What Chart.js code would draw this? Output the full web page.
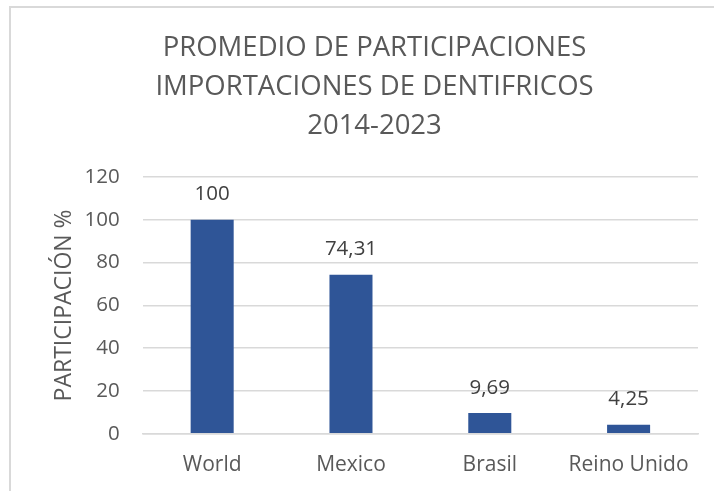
<!DOCTYPE html>
<html>
<head>
<meta charset="utf-8">
<script src="https://cdn.jsdelivr.net/npm/chart.js@4.4.1/dist/chart.umd.min.js"></script>
<style>
  html, body { margin: 0; padding: 0; background: #fff; overflow: hidden; }
  #wrap { position: relative; width: 714px; height: 491px; }
  #frame { position: absolute; left: 9px; top: 6px; width: 740px; height: 520px;
           border: 2px solid #D9D9D9; pointer-events: none; box-sizing: border-box; }
</style>
</head>
<body>
<div id="wrap">
  <canvas id="chart" width="714" height="491"></canvas>
  <div id="frame"></div>
</div>
<script>
const titleLines = ['PROMEDIO DE PARTICIPACIONES', 'IMPORTACIONES DE DENTIFRICOS', '2014-2023'];
const countries = ['World', 'Mexico', 'Brasil', 'Reino Unido'];
const shares = [100, 74.31, 9.69, 4.25];
const yTitle = 'PARTICIPACIÓN %';

const FONT = "'Open Sans', 'Noto Sans', sans-serif";
const GREY = '#595959';

// value labels above each bar, Spanish decimal comma
const barLabels = {
    id: 'barLabels',
    afterDatasetsDraw(chart){
        const ctx = chart.ctx;
        const meta = chart.getDatasetMeta(0);
        ctx.save();
        ctx.font = '20.5px ' + FONT;
        ctx.fillStyle = '#404040';
        ctx.textAlign = 'center';
        ctx.textBaseline = 'bottom';
        meta.data.forEach(function(bar, i){
            const txt = String(shares[i]).replace('.', ',');
            ctx.fillText(txt, bar.x, bar.y - 15);
        });
        ctx.restore();
    }
};

new Chart(document.getElementById('chart'), {
    type: 'bar',
    data: {
        labels: countries,
        datasets: [{
            data: shares,
            backgroundColor: '#2F5597',
            barPercentage: 0.31,
            categoryPercentage: 1.0
        }]
    },
    options: {
        responsive: false,
        animation: false,
        layout: { padding: { left: 51, right: 16, top: 8, bottom: 2 } },
        plugins: {
            legend: { display: false },
            tooltip: { enabled: false },
            title: {
                display: true,
                text: titleLines,
                color: GREY,
                font: { family: FONT, size: 27.5, weight: 'normal', lineHeight: '39px' },
                padding: { top: 21, bottom: 31 }
            }
        },
        scales: {
            x: {
                grid: { display: false },
                border: { display: true, color: '#D9D9D9', width: 1.5 },
                ticks: { color: GREY, font: { family: FONT, size: 21 }, padding: 11 }
            },
            y: {
                min: 0,
                max: 120,
                ticks: { stepSize: 20, color: GREY, font: { family: FONT, size: 20.5 }, padding: 23 },
                grid: { color: '#D9D9D9', lineWidth: 1.5, drawTicks: false },
                border: { display: false },
                title: {
                    display: true,
                    text: yTitle,
                    color: GREY,
                    font: { family: FONT, size: 23 },
                    padding: { top: 0, bottom: -17 }
                }
            }
        }
    },
    plugins: [barLabels]
});
</script>
</body>
</html>
